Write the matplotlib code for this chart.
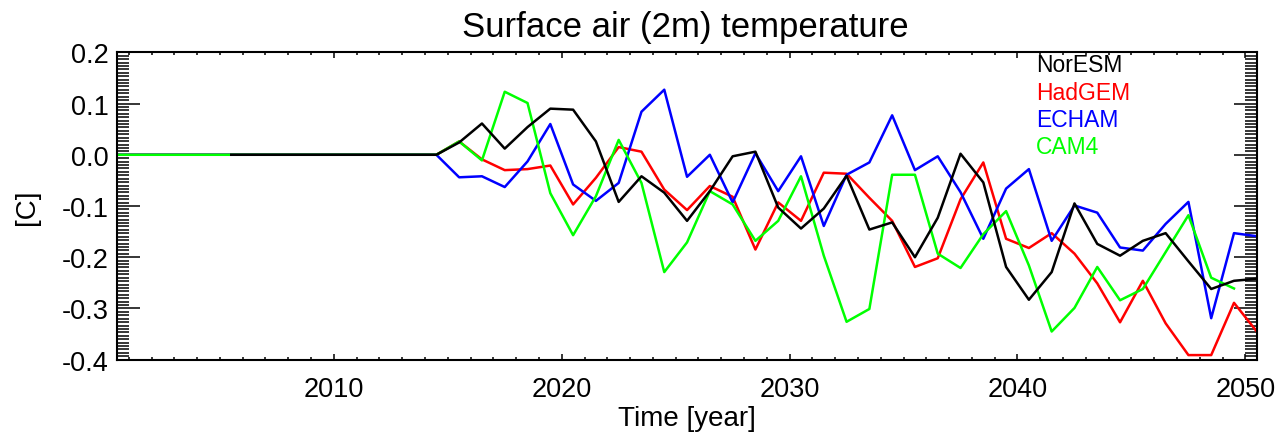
import numpy as np
import matplotlib
matplotlib.use('Agg')
from matplotlib import pyplot as plt
from matplotlib.ticker import MultipleLocator

plt.rcParams['font.family'] = ['Liberation Sans', 'DejaVu Sans']
plt.rcParams['axes.unicode_minus'] = False

# annual means, plotted at mid-year
years = np.arange(2000.5, 2050.6, 1.0)

# NorESM starts in 2005
noresm_years = years[5:]
noresm = [0.0, 0.0, 0.0, 0.0, 0.0, 0.0, 0.0, 0.0, 0.0, 0.0,
          0.024, 0.061, 0.012, 0.054, 0.090, 0.088, 0.026, -0.092, -0.042, -0.074,
          -0.129, -0.071, -0.003, 0.006, -0.103, -0.144, -0.105, -0.041, -0.146, -0.132,
          -0.200, -0.123, 0.002, -0.054, -0.219, -0.283, -0.229, -0.095, -0.174, -0.197,
          -0.168, -0.153, -0.208, -0.262, -0.246, -0.242]

hadgem = [0.0, 0.0, 0.0, 0.0, 0.0, 0.0, 0.0, 0.0, 0.0, 0.0, 0.0, 0.0, 0.0, 0.0, 0.0,
          0.026, -0.009, -0.030, -0.028, -0.021, -0.097, -0.045, 0.015, 0.006, -0.068,
          -0.108, -0.061, -0.082, -0.185, -0.093, -0.129, -0.035, -0.037, -0.084, -0.129,
          -0.219, -0.202, -0.087, -0.015, -0.164, -0.182, -0.153, -0.193, -0.251, -0.327,
          -0.246, -0.329, -0.391, -0.391, -0.289, -0.345]

echam = [0.0, 0.0, 0.0, 0.0, 0.0, 0.0, 0.0, 0.0, 0.0, 0.0, 0.0, 0.0, 0.0, 0.0, 0.0,
         -0.044, -0.042, -0.063, -0.013, 0.060, -0.058, -0.090, -0.055, 0.084, 0.127,
         -0.043, 0.0, -0.093, 0.003, -0.071, -0.003, -0.139, -0.039, -0.015, 0.077,
         -0.030, -0.003, -0.073, -0.164, -0.066, -0.028, -0.168, -0.099, -0.113, -0.181,
         -0.187, -0.135, -0.092, -0.319, -0.153, -0.159]

# CAM4 ends in 2049
cam4_years = years[:-1]
cam4 = [0.0, 0.0, 0.0, 0.0, 0.0, 0.0, 0.0, 0.0, 0.0, 0.0, 0.0, 0.0, 0.0, 0.0, 0.0,
        0.026, -0.011, 0.123, 0.101, -0.075, -0.157, -0.081, 0.029, -0.055, -0.229,
        -0.171, -0.071, -0.097, -0.168, -0.129, -0.042, -0.197, -0.326, -0.301, -0.039,
        -0.039, -0.193, -0.221, -0.155, -0.110, -0.216, -0.345, -0.299, -0.219, -0.284,
        -0.262, -0.190, -0.118, -0.240, -0.261]

names = ['NorESM', 'HadGEM', 'ECHAM', 'CAM4']
colors = ['black', '#ff0000', '#0000ff', '#00ff00']

fig = plt.figure(figsize=(12.78, 4.35), dpi=100)
ax = fig.add_axes([0.0918, 0.1708, 0.8916, 0.7067])

lw = 1.8
ax.plot(years, hadgem, color=colors[1], linewidth=lw)
ax.plot(years, echam, color=colors[2], linewidth=lw)
ax.plot(cam4_years, cam4, color=colors[3], linewidth=lw)
ax.plot(noresm_years, noresm, color=colors[0], linewidth=lw)

ax.set_xlim(2000.5, 2050.5)
ax.set_ylim(-0.4, 0.2)

ax.xaxis.set_major_locator(MultipleLocator(10))
ax.xaxis.set_minor_locator(MultipleLocator(1))
ax.yaxis.set_major_locator(MultipleLocator(0.1))
ax.yaxis.set_minor_locator(MultipleLocator(0.1 / 15))
ax.yaxis.set_major_formatter(matplotlib.ticker.FormatStrFormatter('%.1f'))

ax.tick_params(axis='both', which='both', direction='in', top=True, right=True,
               width=1.1, labelsize=19.5)
ax.tick_params(axis='x', which='major', length=4.3, pad=12)
ax.tick_params(axis='x', which='minor', length=2.2)
ax.tick_params(axis='y', which='major', length=16.5, pad=6)
ax.tick_params(axis='y', which='minor', length=8.6)
for s in ax.spines.values():
    s.set_linewidth(1.5)

ax.set_xlabel('Time [year]', fontsize=20, labelpad=2)
ax.set_ylabel('[C]', fontsize=20)
ax.yaxis.set_label_coords(-0.068, 0.5)

fig.text(0.536, 0.915, 'Surface air (2m) temperature', fontsize=25,
         ha='center', va='baseline')

# legend as coloured text
leg_y = [0.939, 0.849, 0.760, 0.672]
for name, c, yy in zip(names, colors, leg_y):
    ax.text(0.806, yy, name, color=c, fontsize=16.5, transform=ax.transAxes,
            ha='left', va='baseline')

fig.savefig('out.png', dpi=100)
